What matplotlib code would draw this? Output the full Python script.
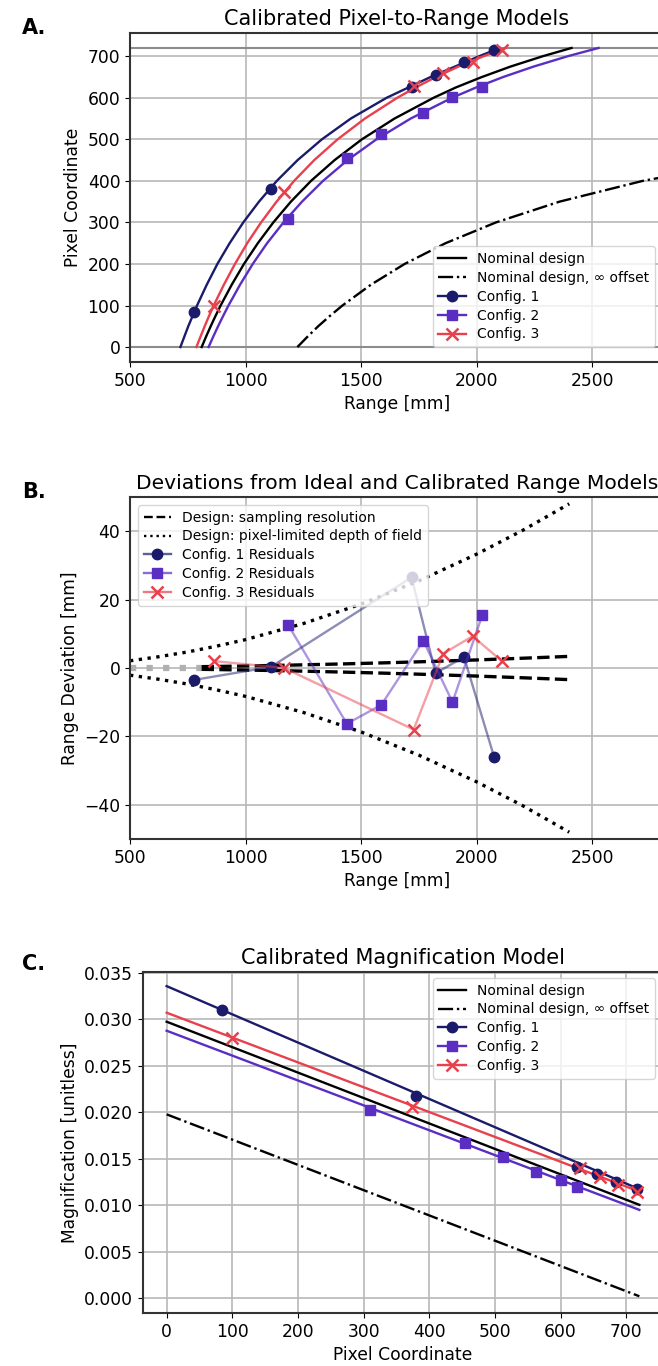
import numpy as np
import matplotlib.pyplot as plt
from matplotlib.lines import Line2D
from matplotlib.colors import to_rgba

# colori delle configurazioni
c1 = '#1b1b6b'
c2 = '#5a2ec2'
c3 = '#e8404c'

# ---- Pannello A: pixel -> range ----
p_curve = [0, 25, 50, 75, 100, 150, 200, 250, 300, 350, 400, 450,
           500, 550, 600, 625, 650, 675, 700, 720]
R_nominal = [810, 829, 849, 870, 892, 940, 993, 1053, 1120, 1196, 1283, 1385,
             1503, 1644, 1813, 1910, 2022, 2145, 2285, 2410]
R_conf1 = [718, 735, 752, 771, 790, 832, 878, 931, 990, 1058, 1135, 1225,
           1330, 1455, 1610, 1705, 1800, 1905, 2010, 2100]
R_conf2 = [840, 860, 881, 903, 926, 976, 1031, 1093, 1164, 1244, 1335, 1441,
           1566, 1714, 1893, 1998, 2114, 2245, 2393, 2527]
R_conf3 = [787, 805, 823, 842, 862, 906, 954, 1007, 1067, 1134, 1210, 1297,
           1398, 1516, 1656, 1736, 1823, 1920, 2029, 2125]
p_inf = [0, 25, 50, 75, 100, 150, 200, 250, 300, 350, 400, 450]
R_inf = [1224, 1268, 1314, 1365, 1419, 1542, 1688, 1865, 2083, 2358, 2718, 3208]

# punti misurati (range, pixel)
R_pts1 = [776, 1109, 1718, 1822, 1945, 2075]
p_pts1 = [84, 380, 625, 656, 685, 716]
R_pts2 = [1185, 1438, 1587, 1769, 1895, 2024]
p_pts2 = [309, 454, 512, 563, 601, 625]
R_pts3 = [864, 1167, 1727, 1855, 1982, 2109]
p_pts3 = [100, 373, 629, 660, 687, 716]

# ---- Pannello B: residui ----
res1 = [-3.5, 0.3, 26.5, -1.5, 3.2, -26.0]
res2 = [12.5, -16.3, -10.8, 8.0, -10.0, 15.5]
res3 = [2.0, 0.0, -18.0, 4.2, 9.3, 2.0]
R_res = [810, 1000, 1200, 1400, 1600, 1800, 2000, 2200, 2400]
sampling_res = [0.39, 0.59, 0.85, 1.16, 1.51, 1.91, 2.36, 2.86, 3.4]
R_dof = [500, 625, 750, 875, 1000, 1250, 1500, 1750, 2000, 2200, 2400]
dof = [2.1, 3.3, 4.7, 6.4, 8.3, 13.0, 18.7, 25.5, 33.3, 40.3, 48.0]
R_zero = [500, 810]
zero_line = [0, 0]

# ---- Pannello C: ingrandimento ----
p_line = [0, 720]
m_nominal = [0.02975, 0.01004]
m_inf = [0.01978, 0.0002]
m_conf1 = [0.03358, 0.01172]
m_conf2 = [0.02878, 0.00950]
m_conf3 = [0.03072, 0.01147]
m_pts1 = [0.0310, 0.02176, 0.01416, 0.01337, 0.01247, 0.01172]
m_pts2 = [0.02025, 0.01674, 0.01516, 0.01362, 0.01272, 0.01201]
m_pts3 = [0.02796, 0.02061, 0.01398, 0.01308, 0.01219, 0.0114]

plt.rcParams['font.size'] = 12.3
W, H = 658, 1366
fig = plt.figure(figsize=(W / 100, H / 100), dpi=100)

def box(left, right, top, bottom):
    return [left / W, 1 - bottom / H, (right - left) / W, (bottom - top) / H]

grid_kw = dict(color='#b8b8b8', linewidth=1.2)
ms = 7.5
lw = 1.7
tsize = 15

# A
axA = fig.add_axes(box(130, 664, 33, 362))
axA.grid(True, **grid_kw)
axA.axhline(0, color='#8c8c8c', lw=1.5)
axA.axhline(720, color='#8c8c8c', lw=1.5)
axA.plot(R_nominal, p_curve, color='black', lw=lw)
axA.plot(R_inf, p_inf, color='black', lw=lw, ls='-.')
axA.plot(R_conf1, p_curve, color=c1, lw=lw)
axA.plot(R_conf2, p_curve, color=c2, lw=lw)
axA.plot(R_conf3, p_curve, color=c3, lw=lw)
axA.plot(R_pts1, p_pts1, 'o', color=c1, ms=ms)
axA.plot(R_pts2, p_pts2, 's', color=c2, ms=ms)
axA.plot(R_pts3, p_pts3, 'x', color=c3, ms=ms + 1, mew=1.8)
axA.set_xlim(500, 2810)
axA.set_ylim(-36, 756)
axA.set_xticks([500, 1000, 1500, 2000, 2500])
axA.set_yticks([0, 100, 200, 300, 400, 500, 600, 700])
axA.set_xlabel('Range [mm]')
axA.set_ylabel('Pixel Coordinate')
axA.set_title('Calibrated Pixel-to-Range Models', fontsize=tsize)

handlesA = [
    Line2D([], [], color='black', lw=lw),
    Line2D([], [], color='black', lw=lw, ls='-.'),
    Line2D([], [], color=c1, lw=lw, marker='o', ms=ms),
    Line2D([], [], color=c2, lw=lw, marker='s', ms=ms),
    Line2D([], [], color=c3, lw=lw, marker='x', ms=ms + 1, mew=1.8),
]
labelsA = ['Nominal design', 'Nominal design, \u221e offset', 'Config. 1', 'Config. 2', 'Config. 3']
axA.legend(handlesA, labelsA, loc='lower right', fontsize=10,
           bbox_to_anchor=(655 / W, 1 - 347 / H), bbox_transform=fig.transFigure,
           borderaxespad=0, labelspacing=0.35)

# B
axB = fig.add_axes(box(130, 664, 497, 839))
axB.grid(True, **grid_kw)
axB.plot(R_zero, zero_line, color='#b0b0b0', lw=4.5, ls=':')
axB.plot(R_res, sampling_res, color='black', lw=2.4, ls='--')
axB.plot(R_res, [-v for v in sampling_res], color='black', lw=2.4, ls='--')
axB.plot(R_dof, dof, color='black', lw=2.4, ls=':')
axB.plot(R_dof, [-v for v in dof], color='black', lw=2.4, ls=':')
axB.plot(R_pts1, res1, color=to_rgba(c1, 0.5), lw=lw, marker='o', ms=ms, mfc=c1, mec=c1)
axB.plot(R_pts2, res2, color=to_rgba(c2, 0.5), lw=lw, marker='s', ms=ms, mfc=c2, mec=c2)
axB.plot(R_pts3, res3, color=to_rgba(c3, 0.5), lw=lw, marker='x', ms=ms + 1, mew=1.8, mfc=c3, mec=c3)
axB.set_xlim(500, 2810)
axB.set_ylim(-50, 50)
axB.set_xticks([500, 1000, 1500, 2000, 2500])
axB.set_yticks([-40, -20, 0, 20, 40])
axB.set_xlabel('Range [mm]')
axB.set_ylabel('Range Deviation [mm]')
axB.set_title('Deviations from Ideal and Calibrated Range Models', fontsize=14.6)

handlesB = [
    Line2D([], [], color='black', lw=lw, ls='--'),
    Line2D([], [], color='black', lw=lw, ls=':'),
    Line2D([], [], color=to_rgba(c1, 0.7), lw=lw, marker='o', ms=ms, mfc=c1, mec=c1),
    Line2D([], [], color=to_rgba(c2, 0.7), lw=lw, marker='s', ms=ms, mfc=c2, mec=c2),
    Line2D([], [], color=to_rgba(c3, 0.7), lw=lw, marker='x', ms=ms + 1, mew=1.8, mfc=c3, mec=c3),
]
labelsB = ['Design: sampling resolution', 'Design: pixel-limited depth of field',
           'Config. 1 Residuals', 'Config. 2 Residuals', 'Config. 3 Residuals']
axB.legend(handlesB, labelsB, loc='upper left', fontsize=10,
           bbox_to_anchor=(138 / W, 1 - 505 / H), bbox_transform=fig.transFigure,
           borderaxespad=0, labelspacing=0.35)

# C
axC = fig.add_axes(box(143, 663, 972, 1313))
axC.grid(True, **grid_kw)
axC.plot(p_line, m_nominal, color='black', lw=lw)
axC.plot(p_line, m_inf, color='black', lw=lw, ls='-.')
axC.plot(p_line, m_conf1, color=c1, lw=lw)
axC.plot(p_line, m_conf2, color=c2, lw=lw)
axC.plot(p_line, m_conf3, color=c3, lw=lw)
axC.plot(p_pts1, m_pts1, 'o', color=c1, ms=ms)
axC.plot(p_pts2, m_pts2, 's', color=c2, ms=ms)
axC.plot(p_pts3, m_pts3, 'x', color=c3, ms=ms + 1, mew=1.8)
axC.set_xlim(-36, 756)
axC.set_ylim(-0.0016, 0.0351)
axC.set_xticks([0, 100, 200, 300, 400, 500, 600, 700])
axC.set_yticks([0.0, 0.005, 0.010, 0.015, 0.020, 0.025, 0.030, 0.035])
axC.set_xlabel('Pixel Coordinate')
axC.set_ylabel('Magnification [unitless]')
axC.set_title('Calibrated Magnification Model', fontsize=tsize)
axC.legend(handlesA, labelsA, loc='upper right', fontsize=10,
           bbox_to_anchor=(655 / W, 1 - 978 / H), bbox_transform=fig.transFigure,
           borderaxespad=0, labelspacing=0.35)

for ax in (axA, axB, axC):
    for s in ax.spines.values():
        s.set_linewidth(1.5)
        s.set_color('#333333')

fig.text(22 / W, 1 - 28 / H, 'A.', fontsize=15, fontweight='bold', va='center')
fig.text(22 / W, 1 - 492 / H, 'B.', fontsize=15, fontweight='bold', va='center')
fig.text(22 / W, 1 - 964 / H, 'C.', fontsize=15, fontweight='bold', va='center')

plt.savefig('out.png', dpi=100)
